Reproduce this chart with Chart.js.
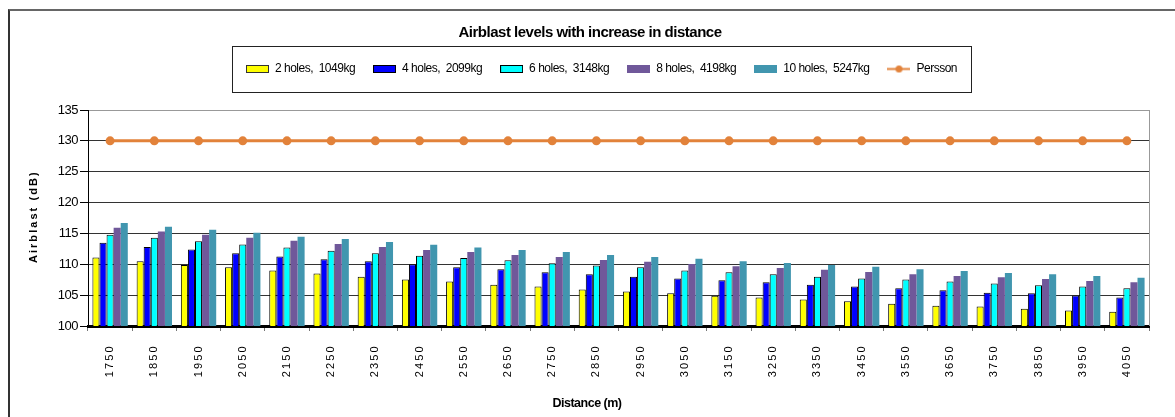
<!DOCTYPE html>
<html>
<head>
<meta charset="utf-8">
<title>Airblast levels with increase in distance</title>
<script src="https://cdn.jsdelivr.net/npm/chart.js@4.4.0/dist/chart.umd.min.js"></script>
<style>
  html, body { margin: 0; padding: 0; background: #fff; overflow: hidden; }
  #frame { position: absolute; left: 8px; top: 9px; width: 1300px; height: 600px;
           border-left: 2px solid #333; border-top: 2px solid #666; }
  #chart { position: absolute; left: 0; top: 0; }
</style>
</head>
<body>
<div id="frame"></div>
<canvas id="chart" width="1175" height="417"></canvas>
<script>
// Distancias (m) no eixo x.
const distances = [1750, 1850, 1950, 2050, 2150, 2250, 2350, 2450, 2550, 2650, 2750, 2850,
                   2950, 3050, 3150, 3250, 3350, 3450, 3550, 3650, 3750, 3850, 3950, 4050];

// Niveis de airblast (dB).
const holes2 = [111.1, 110.5, 109.9, 109.5, 109.0, 108.5, 108.0, 107.55, 107.2, 106.7, 106.4, 105.9,
                105.6, 105.3, 104.9, 104.6, 104.3, 104.0, 103.6, 103.3, 103.15, 102.8, 102.5, 102.3];
const holes4 = [113.5, 112.8, 112.4, 111.8, 111.25, 110.8, 110.5, 110.0, 109.5, 109.2, 108.7, 108.4,
                108.0, 107.7, 107.4, 107.1, 106.7, 106.4, 106.1, 105.8, 105.4, 105.3, 104.95, 104.6];
const holes6 = [114.8, 114.3, 113.75, 113.2, 112.7, 112.2, 111.8, 111.4, 111.0, 110.65, 110.15, 109.8,
                109.5, 109.0, 108.7, 108.4, 108.0, 107.7, 107.55, 107.2, 106.9, 106.6, 106.4, 106.1];
const holes8 = [115.9, 115.3, 114.8, 114.3, 113.8, 113.3, 112.8, 112.3, 112.0, 111.5, 111.2, 110.7,
                110.4, 110.05, 109.7, 109.4, 109.1, 108.75, 108.4, 108.1, 107.9, 107.6, 107.3, 107.1];
const holes10 = [116.7, 116.1, 115.6, 115.1, 114.45, 114.1, 113.6, 113.15, 112.7, 112.3, 112.0, 111.5,
                 111.2, 110.9, 110.5, 110.2, 109.9, 109.6, 109.2, 108.9, 108.6, 108.4, 108.1, 107.8];
const persson = [130, 130, 130, 130, 130, 130, 130, 130, 130, 130, 130, 130,
                 130, 130, 130, 130, 130, 130, 130, 130, 130, 130, 130, 130];

const seriesNames = ['2 holes,  1049kg', '4 holes,  2099kg', '6 holes,  3148kg',
                     '8 holes,  4198kg', '10 holes,  5247kg', 'Persson'];
const yTicks = [100, 105, 110, 115, 120, 125, 130, 135];
const chartTitle = 'Airblast levels with increase in distance';
const xTitle = 'Distance (m)';
const yTitle = 'A i r b l a s t   ( d B )';

const font = "'Liberation Sans', Arial, sans-serif";
const colors = ['#FFFF00', '#0000FF', '#00FFFF', '#70589A', '#4196AF'];
const orange = '#E2823A';

// Icones da legenda (retangulo largo e linha com ponto).
const swatch = (fill, stroke) => {
    const c = document.createElement('canvas');
    c.width = 23; c.height = 8;
    const g = c.getContext('2d');
    g.fillStyle = fill;
    g.fillRect(0, 0, 23, 8);
    if (stroke) {
        g.strokeStyle = stroke;
        g.lineWidth = 1;
        g.strokeRect(0.5, 0.5, 22, 7);
    }
    return c;
};
const lineSwatch = (color) => {
    const c = document.createElement('canvas');
    c.width = 23; c.height = 9;
    const g = c.getContext('2d');
    g.strokeStyle = color; g.lineWidth = 2;
    g.beginPath(); g.moveTo(0, 4.5); g.lineTo(23, 4.5); g.stroke();
    g.fillStyle = color;
    g.beginPath(); g.arc(11.5, 4.5, 3.5, 0, Math.PI * 2); g.fill();
    return c;
};
const legendIcons = [swatch(colors[0], '#333'), swatch(colors[1], '#000'), swatch(colors[2], '#000'),
                     swatch(colors[3]), swatch(colors[4]), lineSwatch(orange)];

// Texto mais apertado, para lembrar a fonte "narrow" do original.
const tightText = (chart) => { chart.ctx.letterSpacing = '-0.5px'; };

// Posiciona titulo/legenda como no original e desenha as molduras.
const framePlugin = {
    id: 'frame',
    beforeUpdate: tightText,
    beforeDraw: tightText,
    afterLayout(chart) {
        const lg = chart.legend;
        lg.left = 100; lg.right = 1103; lg.width = 1003;
        lg.top = 45; lg.bottom = lg.top + lg.height;
        const t = chart.titleBlock;
        t.left = 90; t.right = 1090; t.width = 1000;
        const sub = chart.boxes.find(b => b !== t && b.options && b.options.text === xTitle);
        if (sub) { sub.left = 87; sub.right = 1087; sub.width = 1000; }
    },
    afterDraw(chart) {
        const ctx = chart.ctx, a = chart.chartArea;
        ctx.save();
        ctx.strokeStyle = '#222';
        ctx.lineWidth = 1;
        ctx.strokeRect(232.5, 46.5, 739, 46);
        ctx.strokeStyle = '#999';
        ctx.beginPath();
        ctx.moveTo(Math.round(a.right) + 0.5, a.top);
        ctx.lineTo(Math.round(a.right) + 0.5, a.bottom);
        ctx.stroke();
        ctx.restore();
    }
};

const barSet = (i, data) => ({
    type: 'bar',
    label: seriesNames[i],
    data: data,
    backgroundColor: colors[i],
    borderColor: '#000',
    borderWidth: i < 3 ? 1 : 0,
    categoryPercentage: 0.8,
    barPercentage: 1.0
});

new Chart(document.getElementById('chart'), {
    data: {
        labels: distances,
        datasets: [
            barSet(0, holes2), barSet(1, holes4), barSet(2, holes6), barSet(3, holes8), barSet(4, holes10),
            {
                type: 'line',
                label: seriesNames[5],
                data: persson,
                borderColor: orange,
                backgroundColor: orange,
                borderWidth: 3,
                pointRadius: 4.5,
                pointBorderWidth: 0,
                pointBackgroundColor: orange
            }
        ]
    },
    options: {
        responsive: false,
        devicePixelRatio: 1,
        animation: false,
        layout: { padding: { top: 12, left: 10, right: 26, bottom: 4 } },
        plugins: {
            tooltip: { enabled: false },
            title: {
                display: true, text: chartTitle, color: '#000',
                font: { family: font, size: 15, weight: 'bold' },
                padding: { top: 12, bottom: 28 }
            },
            subtitle: {
                display: true, position: 'bottom', text: xTitle, color: '#000',
                font: { family: font, size: 12.5, weight: 'bold' },
                padding: { top: 0, bottom: 2 }
            },
            legend: {
                display: true,
                labels: {
                    color: '#000',
                    font: { family: font, size: 12 },
                    padding: 18,
                    usePointStyle: true,
                    pointStyleWidth: 23,
                    generateLabels(chart) {
                        return Chart.defaults.plugins.legend.labels.generateLabels(chart).map((item, i) => {
                            item.pointStyle = legendIcons[i];
                            return item;
                        });
                    }
                }
            }
        },
        scales: {
            x: {
                grid: { display: true, drawOnChartArea: false, drawTicks: true, tickLength: 5, tickColor: '#777', offset: true },
                border: { color: '#000', width: 3 },
                ticks: {
                    autoSkip: false, maxRotation: 90, minRotation: 90, padding: 16,
                    color: '#000', font: { family: font, size: 11 },
                    callback(v) { return String(this.getLabelForValue(v)).split('').join(' '); }
                },
                afterFit(s) { s.height = 70; }
            },
            y: {
                min: yTicks[0], max: yTicks[yTicks.length - 1],
                afterBuildTicks(s) { s.ticks = yTicks.map(v => ({ value: v })); },
                ticks: { color: '#000', padding: 2, font: { family: font, size: 13 } },
                grid: {
                    color: (c) => (c.tick && c.tick.value === 135 ? '#999' : '#333'),
                    tickLength: 8, tickColor: '#000'
                },
                border: { color: '#000', width: 1 },
                title: {
                    display: true, text: yTitle, color: '#000',
                    font: { family: font, size: 11, weight: 'bold' },
                    padding: { top: 16.9, bottom: 0 }
                },
                afterFit(s) { s.width = 78; }
            }
        }
    },
    plugins: [framePlugin]
});
</script>
</body>
</html>
